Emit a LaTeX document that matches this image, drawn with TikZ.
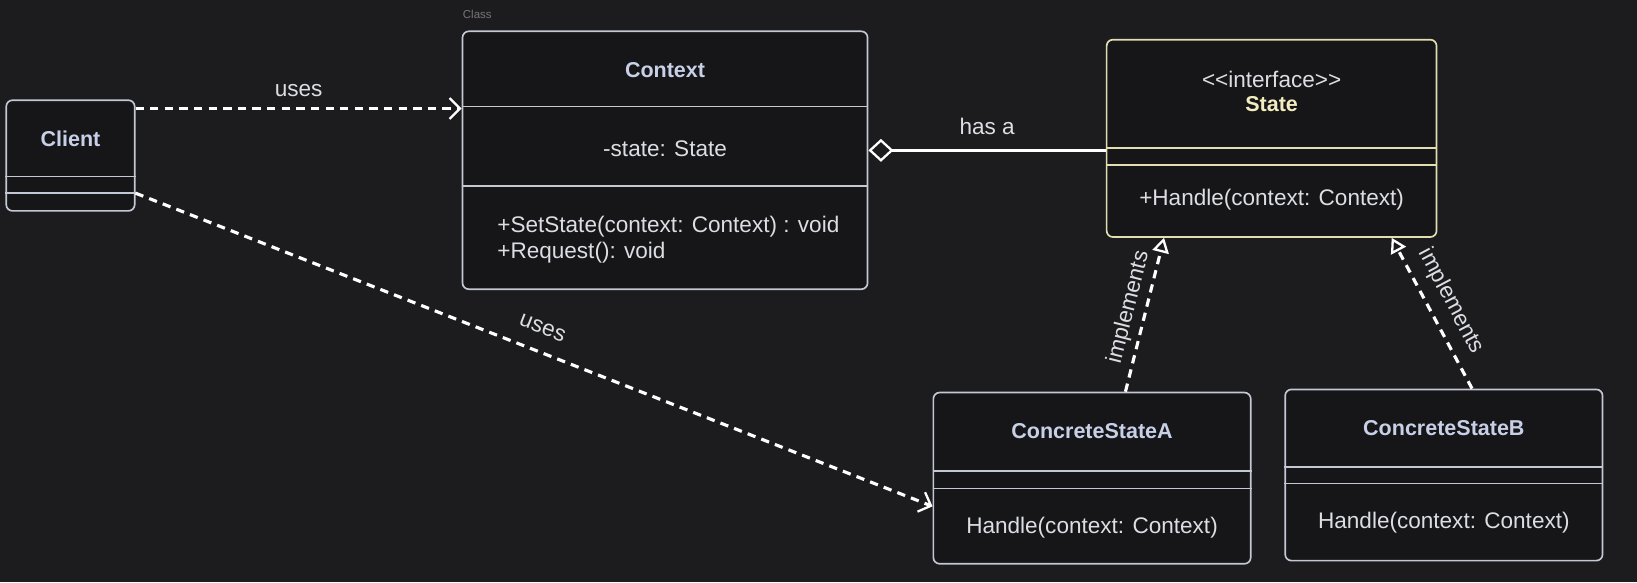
\documentclass[tikz,border=0pt]{standalone}
\usepackage{fontspec}
\setmainfont{Liberation Sans}
\usetikzlibrary{arrows.meta}
\definecolor{bg}{RGB}{28,28,30}
\definecolor{boxfill}{RGB}{22,22,24}
\definecolor{edge}{RGB}{196,200,212}
\definecolor{txt}{RGB}{220,222,228}
\definecolor{ttlc}{RGB}{200,208,232}
\definecolor{ybord}{RGB}{226,222,178}
\definecolor{yttl}{RGB}{242,236,192}
\definecolor{graylbl}{RGB}{118,118,122}
\begin{document}
\begin{tikzpicture}[x=0.5pt,y=-0.5pt,
  box/.style={draw=edge,fill=boxfill,line width=0.8pt,rounded corners=3pt,inner sep=0pt},
  ybox/.style={box,draw=ybord},
  divider/.style={draw=edge,line width=0.8pt},
  ydivider/.style={draw=ybord,line width=0.8pt},
  ttl/.style={font=\fontsize{10.3}{12}\selectfont\bfseries,text=ttlc,inner sep=0pt},
  body/.style={font=\fontsize{10.8}{13}\selectfont,text=txt,inner sep=0pt},
  lbl/.style={font=\fontsize{10.8}{13}\selectfont,text=txt,inner sep=0pt},
  uses/.style={draw=white,line width=1.5pt,dash pattern=on 4pt off 3pt,
    -{Straight Barb[length=5pt,width=10pt,line width=1.1pt]}},
  impl/.style={draw=white,line width=1.5pt,dash pattern=on 4pt off 3pt,
    -{Triangle[open,length=7pt,width=8pt,line width=1.1pt]}},
  hasa/.style={draw=white,line width=1.3pt,
    {Diamond[open,length=12pt,width=11pt,line width=1.1pt]}-}
]
\fill[bg] (0,0) rectangle (1568,557.5);
\useasboundingbox (0,0) rectangle (1568,557.5);

% Client
\node[box,minimum width=61.5pt,minimum height=53pt] (client) at (67.5,149) {};
\draw[divider] (client.west |- 0,169) -- (client.east |- 0,169);
\draw[divider] (client.west |- 0,185) -- (client.east |- 0,185);
\node[ttl] (clientT) at (67.5,133) {Client};

% Context
\node[font=\fontsize{5.5}{6}\selectfont,text=graylbl,anchor=west,inner sep=0pt] (classlbl) at (443,14) {Class};
\node[box,minimum width=194pt,minimum height=123.5pt] (ctx) at (637,153.5) {};
\draw[divider] (ctx.west |- 0,102) -- (ctx.east |- 0,102);
\draw[divider] (ctx.west |- 0,178) -- (ctx.east |- 0,178);
\node[ttl] (ctxT) at (637,67) {Context};
\node[body] (ctxA) at (637,142) {-state: State};
\node[body,anchor=west] (ctxM1) at (476,217) {+SetState(context: Context) : void};
\node[body,anchor=west] (ctxM2) at (476,242) {+Request(): void};

% State
\node[ybox,minimum width=158pt,minimum height=94.5pt] (state) at (1218,132.5) {};
\draw[ydivider] (state.west |- 0,142) -- (state.east |- 0,142);
\draw[ydivider] (state.west |- 0,158) -- (state.east |- 0,158);
\node[body] (stateS) at (1218,76) {<{}<interface>{}>};
\node[ttl,text=yttl] (stateT) at (1218,100) {State};
\node[body] (stateM) at (1218,191) {+Handle(context: Context)};

% ConcreteStateA
\node[box,minimum width=152pt,minimum height=82pt] (csa) at (1046,458) {};
\draw[divider] (csa.west |- 0,451) -- (csa.east |- 0,451);
\draw[divider] (csa.west |- 0,468) -- (csa.east |- 0,468);
\node[ttl] (csaT) at (1046,413) {ConcreteStateA};
\node[body] (csaM) at (1046,505) {Handle(context: Context)};

% ConcreteStateB
\node[box,minimum width=152pt,minimum height=82pt] (csb) at (1383,455) {};
\draw[divider] (csb.west |- 0,447) -- (csb.east |- 0,447);
\draw[divider] (csb.west |- 0,463) -- (csb.east |- 0,463);
\node[ttl] (csbT) at (1383,410) {ConcreteStateB};
\node[body] (csbM) at (1383,501) {Handle(context: Context)};

% connectors
\draw[uses] (client.east |- 0,104) -- (ctx.west |- 0,104)
  node[lbl,pos=0.5,above=5pt] {uses};
\draw[uses] (client.east |- 0,185) -- (csa.west |- 0,485)
  node[lbl,pos=0.5,sloped,above=7.5pt] {uses};
\draw[hasa] (ctx.east |- 0,144) -- (state.west |- 0,144)
  node[lbl,pos=0.5,above=6.8pt] {has a};
\draw[impl] (1078,0 |- csa.north) -- (1115,0 |- state.south)
  node[lbl,pos=0.52,sloped,above=2.5pt] {implements};
\draw[impl] (1410,0 |- csb.north) -- (1333,0 |- state.south)
  node[lbl,pos=0.51,sloped,above=5pt] {implements};
\end{tikzpicture}
\end{document}
